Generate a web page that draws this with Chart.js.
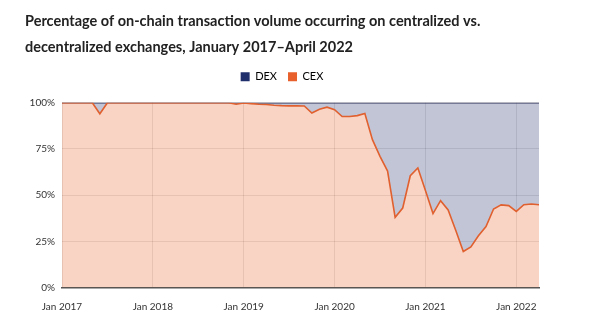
<!DOCTYPE html>
<html>
<head>
<meta charset="utf-8">
<script src="https://cdn.jsdelivr.net/npm/chart.js@4"></script>
<style>
  html, body { margin: 0; padding: 0; background: #fff; }
  #wrap { width: 600px; height: 326px; }
</style>
</head>
<body>
<div id="wrap"><canvas id="myChart" width="600" height="326"></canvas></div>
<script>
// monthly categories, Jan 2017 .. Apr 2022
var monthNames = ['Jan', 'Feb', 'Mar', 'Apr', 'May', 'Jun', 'Jul', 'Aug', 'Sep', 'Oct', 'Nov', 'Dec'];
var months = [];
for (var y = 2017; y <= 2022; y++) {
    for (var m = 0; m < 12; m++) {
        if (y === 2022 && m > 3) break;
        months.push(monthNames[m] + ' ' + y);
    }
}

// share of volume on centralized exchanges (%)
var cexShare = [
    100, 100, 100, 100, 100, 94, 100, 100, 100, 100, 100, 100,      // 2017
    100, 100, 100, 100, 100, 100, 100, 100, 100, 100, 100, 99.2,    // 2018
    99.8, 99.5, 99.2, 99, 98.6, 98.4, 98.3, 98.3, 98.2, 94.4, 96.5, 97.6, // 2019
    96.2, 92.5, 92.5, 93, 94.2, 80, 71, 63, 38, 43, 60.5, 64.7,     // 2020
    52.5, 40, 47, 42, 31, 19.5, 22, 28, 33, 42.5, 44.7, 44.3,       // 2021
    41.2, 44.8, 45.2, 44.8                                           // 2022
];
// the rest goes to decentralized exchanges
var dexShare = cexShare.map(function (v) { return +(100 - v).toFixed(1); });

var yTicks = [0, 25, 50, 75, 100];

// a bit of extra room under the legend
var legendGap = {
    id: 'legendGap',
    beforeLayout: function (chart) {
        var lg = chart.legend;
        if (lg && !lg._gapPatched) {
            var fit = lg.fit;
            lg.fit = function () { fit.call(this); this.height += 10.5; };
            lg._gapPatched = true;
        }
    }
};

var ctx = document.getElementById('myChart').getContext('2d');

var shareChart = new Chart(ctx, {
    type: 'line',
    data: {
        labels: months,
        datasets: [{
            label: 'CEX',
            data: cexShare,
            borderColor: '#e0602f',
            backgroundColor: 'rgba(232, 97, 44, 0.28)',
            borderWidth: 1.6,
            pointRadius: 0,
            tension: 0,
            fill: 'origin'
        },
        {
            label: 'DEX',
            data: dexShare,
            borderColor: '#2b2f55',
            backgroundColor: 'rgba(31, 47, 107, 0.28)',
            borderWidth: 1.5,
            pointRadius: 0,
            tension: 0,
            fill: '-1'
        }]
    },
    plugins: [legendGap],
    options: {
        responsive: false,
        animation: false,
        layout: {
            padding: { left: 25, right: 61, top: 0, bottom: 0 }
        },
        plugins: {
            title: {
                display: true,
                align: 'start',
                text: ['Percentage of on-chain transaction volume occurring on centralized vs.',
                       'decentralized exchanges, January 2017\u2013April 2022'],
                color: '#222',
                font: { family: 'Lato', size: 14.5, weight: 'bold', lineHeight: 1.8 },
                padding: { top: 8, bottom: 0 }
            },
            legend: {
                reverse: true,
                labels: {
                    boxWidth: 9,
                    boxHeight: 9,
                    padding: 11,
                    color: '#444',
                    font: { family: 'Lato', size: 11 },
                    generateLabels: function (chart) {
                        var solid = { CEX: '#e8612c', DEX: '#1f2f6b' };
                        return chart.data.datasets.map(function (ds, i) {
                            return {
                                text: ds.label,
                                fillStyle: solid[ds.label],
                                strokeStyle: solid[ds.label],
                                lineWidth: 0,
                                datasetIndex: i
                            };
                        });
                    }
                }
            },
            tooltip: { enabled: false }
        },
        scales: {
            x: {
                offset: false,
                afterFit: function (scale) { scale.height = 38.5; },
                grid: {
                    color: 'rgba(0, 0, 0, 0.1)',
                    drawTicks: false
                },
                border: { display: true, color: '#555', width: 1.5 },
                ticks: {
                    autoSkip: false,
                    maxRotation: 0,
                    padding: 13,
                    color: '#333',
                    font: { family: 'Lato', size: 10 },
                    callback: function (v, i) {
                        return i % 12 === 0 ? months[i] : null;
                    }
                }
            },
            y: {
                stacked: true,
                min: 0,
                max: 100,
                afterFit: function (scale) { scale.width = 37; },
                grid: {
                    color: 'rgba(0, 0, 0, 0.1)',
                    drawTicks: false
                },
                border: { display: false },
                afterBuildTicks: function (scale) {
                    scale.ticks = yTicks.map(function (v) { return { value: v }; });
                },
                ticks: {
                    padding: 7,
                    color: '#333',
                    font: { family: 'Lato', size: 10 },
                    callback: function (v) { return v + '%'; }
                }
            }
        }
    }
});
</script>
</body>
</html>
